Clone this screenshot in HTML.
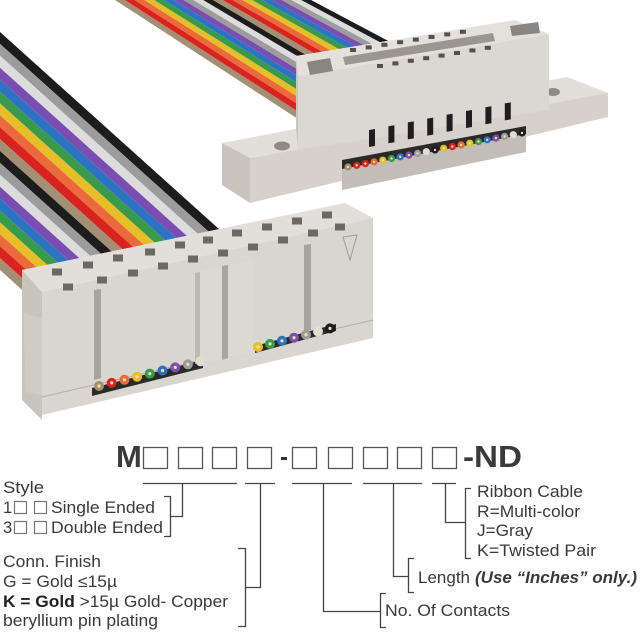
<!DOCTYPE html>
<html><head><meta charset="utf-8"><style>
html,body{margin:0;padding:0;background:#fff;width:640px;height:640px;overflow:hidden}
svg{display:block}
text{font-family:"Liberation Sans",Arial,sans-serif;fill:#3a3a3a}
</style></head><body>
<svg width="640" height="640" viewBox="0 0 640 640" xmlns="http://www.w3.org/2000/svg">
<defs>
  <clipPath id="cu"><polygon points="0,0 520,0 515,20 296,56 296,160 0,160"/></clipPath>
  <clipPath id="cl"><polygon points="0,0 345,0 345,203 22,270 22,420 0,420"/></clipPath>
</defs>
<g id="upribbon" clip-path="url(#cu)"></g>
<g id="lowribbon" clip-path="url(#cl)"></g>

<!-- Upper connector -->
<g stroke="none">
  <polygon points="222,143 567,77 608,93 250,158" fill="#e2ded9"/>
  <polygon points="222,143 250,158 250,203 222,185" fill="#c9c4be"/>
  <polygon points="250,158 608,93 608,117 250,203" fill="#d6d1cb"/>
  <ellipse cx="282" cy="146" rx="8" ry="4.5" fill="#8f8a85"/>
  <ellipse cx="553" cy="92" rx="7" ry="4" fill="#8f8a85"/>
  <polygon points="342,162 526,127 526,152 342,190" fill="#c2bdb7"/>
  <polygon points="342,160 526,126 526,134 342,169" fill="#2a2a2a"/>
  <polygon points="296,56 515,20 549,34 298,76" fill="#e4e0db"/>
  <polygon points="298,76 549,34 549,110 298,150" fill="#dbd7d1"/>
  <polygon points="296,56 298,76 298,150 296,128" fill="#c9c4be"/>
  <polygon points="343,57 493,33 495,41 345,65" fill="#9b9690"/>
  <polygon points="307,62 330,58 333,71 310,75" fill="#8a8580"/>
  <polygon points="510,26 538,22 540,33 512,36" fill="#8a8580"/>
</g>
<g id="uholes" fill="#55504c"></g>
<g id="uslots" fill="#1e1e1e"></g>
<g id="udots"></g>

<!-- Lower connector -->
<g>
  <polygon points="22,270 345,203 373,218 42,292" fill="#e2ded9"/>
  <polygon points="22,270 42,292 42,420 22,400" fill="#c9c4be"/>
  <polygon points="23,313 42,318 42,395 26,392" fill="#d0cbc5"/>
  <polygon points="42,292 373,218 373,338 42,415" fill="#d9d5cf"/>
  <line x1="42" y1="397" x2="373" y2="320" stroke="#b5b0aa" stroke-width="1"/>
  <polygon points="94,290 101,289 101,378 94,380" fill="#a8a39d"/>
  <polygon points="304,245 311,244 311,330 304,332" fill="#a8a39d"/>
  <polygon points="92,388 203,360 203,368 92,396" fill="#2a2a2a"/>
  <polygon points="255,346 336,324 336,331 255,353" fill="#2a2a2a"/>
  <polygon points="195,273 200,272 200,362 195,364" fill="#bdb8b2"/>
  <polygon points="200,270 222,266 222,360 200,363" fill="#dcd8d2"/>
  <polygon points="222,266 228,265 228,358 222,360" fill="#a9a49e"/>
  <polygon points="228,265 253,260 253,353 228,357" fill="#dcd8d2"/>
  <polygon points="343,237 357,235 350,260" fill="none" stroke="#a09b95" stroke-width="1"/>
</g>
<g id="lholes" fill="#6d6864"></g>
<g id="ldots"></g>

<!-- Part number diagram -->
<g>
  <text x="116" y="467" font-size="31" font-weight="bold" fill="#333">M</text>
  <g fill="none" stroke="#555" stroke-width="1.3">
    <rect x="143.5" y="447.5" width="24" height="21"/>
    <rect x="178.5" y="447.5" width="24" height="21"/>
    <rect x="212.5" y="447.5" width="24" height="21"/>
    <rect x="247.5" y="447.5" width="24" height="21"/>
    <rect x="292.5" y="447.5" width="24" height="21"/>
    <rect x="328.5" y="447.5" width="24" height="21"/>
    <rect x="363.5" y="447.5" width="24" height="21"/>
    <rect x="397.5" y="447.5" width="24" height="21"/>
    <rect x="432.5" y="447.5" width="24" height="21"/>
  </g>
  <rect x="281" y="457" width="6" height="3" fill="#333"/>
  <text x="463" y="467" font-size="31" font-weight="bold" fill="#333" textLength="59" lengthAdjust="spacingAndGlyphs">-ND</text>

  <g fill="none" stroke="#444" stroke-width="1.3">
    <line x1="143" y1="483.5" x2="237" y2="483.5"/>
    <line x1="245" y1="483.5" x2="275" y2="483.5"/>
    <line x1="292" y1="483.5" x2="352" y2="483.5"/>
    <line x1="363" y1="483.5" x2="422" y2="483.5"/>
    <line x1="432" y1="483.5" x2="456" y2="483.5"/>
    <polyline points="182.5,483 182.5,516.5 170.5,516.5"/>
    <polyline points="164,496.5 170.5,496.5 170.5,536.5 164,536.5"/>
    <polyline points="260.5,483 260.5,587.5 245.5,587.5"/>
    <polyline points="238,548.5 245.5,548.5 245.5,626.5 238,626.5"/>
    <polyline points="323.5,483 323.5,611.5 380.5,611.5"/>
    <polyline points="386,593.5 380.5,593.5 380.5,627.5 386,627.5"/>
    <polyline points="393.5,483 393.5,576.5 408.5,576.5"/>
    <polyline points="414,558.5 408.5,558.5 408.5,592.5 414,592.5"/>
    <polyline points="445.5,483 445.5,522.5 465.5,522.5"/>
    <polyline points="471,488.5 465.5,488.5 465.5,558.5 471,558.5"/>
  </g>

  <g font-size="16.5">
    <text x="3" y="493" textLength="41" lengthAdjust="spacingAndGlyphs">Style</text>
    <text x="3" y="513">1</text>
    <text x="51" y="513" textLength="104" lengthAdjust="spacingAndGlyphs">Single Ended</text>
    <text x="3" y="533">3</text>
    <text x="51" y="533" textLength="112" lengthAdjust="spacingAndGlyphs">Double Ended</text>
    <text x="3" y="567" textLength="98" lengthAdjust="spacingAndGlyphs">Conn. Finish</text>
    <text x="3" y="587" textLength="114" lengthAdjust="spacingAndGlyphs">G = Gold ≤15µ</text>
    <text x="3" y="607" textLength="225" lengthAdjust="spacingAndGlyphs"><tspan font-weight="bold" fill="#222">K = Gold</tspan> &gt;15µ Gold- Copper</text>
    <text x="3" y="626" textLength="155" lengthAdjust="spacingAndGlyphs">beryllium pin plating</text>
    <text x="477" y="497" textLength="106" lengthAdjust="spacingAndGlyphs">Ribbon Cable</text>
    <text x="477" y="517" textLength="103" lengthAdjust="spacingAndGlyphs">R=Multi-color</text>
    <text x="477" y="536" textLength="56" lengthAdjust="spacingAndGlyphs">J=Gray</text>
    <text x="477" y="556" textLength="119" lengthAdjust="spacingAndGlyphs">K=Twisted Pair</text>
    <text x="418" y="583" textLength="52" lengthAdjust="spacingAndGlyphs">Length</text>
    <text x="475" y="583" font-weight="bold" font-style="italic" fill="#333" textLength="162" lengthAdjust="spacingAndGlyphs">(Use “Inches” only.)</text>
    <text x="385" y="616" textLength="125" lengthAdjust="spacingAndGlyphs">No. Of Contacts</text>
  </g>
  <g fill="none" stroke="#777" stroke-width="1.2">
    <rect x="14.5" y="501.5" width="12" height="12"/>
    <rect x="34.5" y="501.5" width="12" height="12"/>
    <rect x="14.5" y="521.5" width="12" height="12"/>
    <rect x="34.5" y="521.5" width="12" height="12"/>
  </g>
</g>

<script>
(function(){
var NS="http://www.w3.org/2000/svg";
function el(p,t,a){var e=document.createElementNS(NS,t);for(var k in a)e.setAttribute(k,a[k]);p.appendChild(e);return e;}
var C={tan:"#a38f74",red:"#d8231f",org:"#ea6a3c",yel:"#e6bf28",grn:"#3a9a4c",blu:"#2c73c4",pur:"#7a4eb0",gry:"#9c9c9c",wht:"#dcdcdc",blk:"#1c1c1c"};
var up=["tan","red","org","yel","grn","blu","pur","gry","wht","blk","tan","red","org","yel","grn","blu","pur","gry","wht","blk"];
var g=document.getElementById("upribbon");
for(var i=0;i<20;i++){
  var w=9.8,a=115+i*w,b=a+w;
  var s1=0.65-0.12*i/20,s2=0.65-0.12*(i+1)/20;
  var L=330;
  el(g,"polygon",{points:a+",0 "+b+",0 "+(b+L)+","+(L*s2)+" "+(a+L)+","+(L*s1),fill:C[up[i]]});
}
var low=["blk","gry","wht","pur","blu","grn","yel","org","red","tan","blk","gry","wht","pur","blu","grn","yel","org","red","tan"];
g=document.getElementById("lowribbon");
for(var i=0;i<20;i++){
  var h=11.9,y=32+i*h,L=330,s=0.9;
  el(g,"polygon",{points:"0,"+y+" 0,"+(y+h)+" "+L+","+(y+h+L*s)+" "+L+","+(y+L*s),fill:C[low[i]]});
}
g=document.getElementById("uholes");
for(var i=0;i<8;i++){var x=353+i*15.7,y=50-i*2.6;el(g,"rect",{x:x-3,y:y-2,width:6,height:4});}
for(var i=0;i<8;i++){var x=380+i*15.4,y=66-i*2.6;el(g,"rect",{x:x-3,y:y-2,width:6,height:4});}
g=document.getElementById("uslots");
for(var i=0;i<8;i++){var x=369+i*19.4,y=130-i*3.8;el(g,"polygon",{points:x+","+y+" "+(x+6)+","+(y-1)+" "+(x+6)+","+(y+16)+" "+x+","+(y+17)});}
var dc=["tan","red","red","org","yel","grn","blu","pur","gry","wht","blk","yel","red","org","yel","grn","blu","pur","gry","wht","blk"];
g=document.getElementById("udots");
for(var i=0;i<21;i++){var x=348+i*8.7,y=167-i*1.7;el(g,"circle",{cx:x,cy:y,r:3.6,fill:C[dc[i]]});el(g,"circle",{cx:x,cy:y,r:1.2,fill:"#f0e0a0"});}
g=document.getElementById("lholes");
var r1=[[57,272],[88,265],[118,258],[150,252],[180,245],[208,240],[237,233],[267,227],[297,221],[327,215]];
var r2=[[68,287],[102,280],[133,273],[163,266],[193,259],[223,253],[253,247],[283,240],[313,233],[340,227]];
r1.concat(r2).forEach(function(p){el(g,"rect",{x:p[0]-5,y:p[1]-3.5,width:10,height:7});});
g=document.getElementById("ldots");
var l1=["tan","red","org","yel","grn","blu","pur","gry","wht"];
for(var i=0;i<9;i++){var x=99+i*12.7,y=386-i*3.1;el(g,"circle",{cx:x,cy:y,r:5,fill:C[l1[i]]});el(g,"circle",{cx:x,cy:y,r:1.6,fill:"#f0e0a0"});}
var l2=["yel","grn","blu","pur","gry","wht","blk"];
for(var i=0;i<7;i++){var x=258+i*12,y=347-i*3.1;el(g,"circle",{cx:x,cy:y,r:5,fill:C[l2[i]]});el(g,"circle",{cx:x,cy:y,r:1.6,fill:"#f0e0a0"});}
})();
</script>
</svg>
</body></html>
